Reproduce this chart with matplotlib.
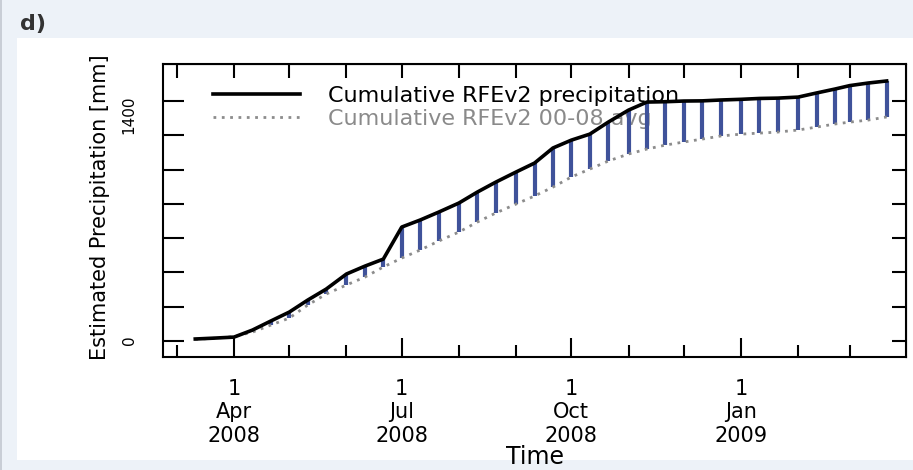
import pandas as pd
import matplotlib
matplotlib.use('Agg')
import matplotlib.pyplot as plt
from matplotlib.patches import Rectangle
from matplotlib.lines import Line2D

# dekadas (10 dias) de mar/2008 a mar/2009
dekads = ['2008-03-11', '2008-03-21', '2008-04-01', '2008-04-11', '2008-04-21',
          '2008-05-01', '2008-05-11', '2008-05-21', '2008-06-01', '2008-06-11',
          '2008-06-21', '2008-07-01', '2008-07-11', '2008-07-21', '2008-08-01',
          '2008-08-11', '2008-08-21', '2008-09-01', '2008-09-11', '2008-09-21',
          '2008-10-01', '2008-10-11', '2008-10-21', '2008-11-01', '2008-11-11',
          '2008-11-21', '2008-12-01', '2008-12-11', '2008-12-21', '2009-01-01',
          '2009-01-11', '2009-01-21', '2009-02-01', '2009-02-11', '2009-02-21',
          '2009-03-01', '2009-03-11', '2009-03-21']

# precipitacao acumulada RFEv2 (mm)
rfe = [12, 17, 23, 64, 117, 169, 239, 303, 391, 437,
       478, 665, 706, 752, 805, 869, 927, 986, 1038, 1126,
       1172, 1207, 1277, 1347, 1394, 1396, 1400, 1401, 1406, 1410,
       1415, 1417, 1423, 1447, 1470, 1490, 1505, 1517]

# media acumulada 2000-2008 (mm)
rfe_avg = [10, 16, 26, 52, 93, 134, 210, 274, 327, 373,
           432, 484, 531, 583, 636, 694, 747, 799, 846, 898,
           957, 1003, 1050, 1091, 1120, 1143, 1161, 1178, 1196, 1207,
           1213, 1219, 1231, 1248, 1266, 1277, 1289, 1307]

major_dates = ['2008-04-01', '2008-07-01', '2008-10-01', '2009-01-01']
major_labels = ['1\nApr\n2008', '1\nJul\n2008', '1\nOct\n2008', '1\nJan\n2009']
month_dates = ['2008-03-01', '2008-04-01', '2008-05-01', '2008-06-01', '2008-07-01',
               '2008-08-01', '2008-09-01', '2008-10-01', '2008-11-01', '2008-12-01',
               '2009-01-01', '2009-02-01', '2009-03-01']
y_ticks = [0, 200, 400, 600, 800, 1000, 1200, 1400]
y_labels = ['0', '', '', '', '', '', '', '1400']

datas = pd.to_datetime(dekads)
meses = pd.to_datetime(month_dates)
principais = pd.to_datetime(major_dates)
secundarios = [m for m in meses if m not in principais]

W, H = 913, 470
fig = plt.figure(figsize=(W / 100, H / 100), dpi=100, facecolor='#edf2f8')
# painel branco atras do grafico
fig.patches.append(Rectangle((17 / W, 10 / H), 896 / W, 422 / H, transform=fig.transFigure,
                             facecolor='white', edgecolor='none', zorder=-2))
fig.patches.append(Rectangle((0, 0), 2 / W, 1, transform=fig.transFigure,
                             facecolor='#c9ced6', edgecolor='none', zorder=-2))
fig.text(20 / W, 1 - 24 / H, 'd)', fontsize=16, fontweight='bold', va='center', color='#333333')

ax = fig.add_axes([163 / W, (H - 357) / H, 743 / W, 293 / H])
ax.set_facecolor('none')

# linhas azuis entre a media e o acumulado
ax.vlines(datas, rfe_avg, rfe, colors='#3f529a', linewidth=3, zorder=2)
ax.plot(datas, rfe_avg, color='#8c8c8c', linestyle=(0, (1, 2)), linewidth=2, zorder=3)
ax.plot(datas, rfe, color='black', linewidth=2.6, zorder=4)

ax.set_xlim(pd.Timestamp('2008-02-22 12:00'), pd.Timestamp('2009-03-31 12:00'))
ax.set_ylim(-93, 1616)

ax.set_xticks(principais, major_labels)
ax.set_xticks(secundarios, minor=True)
ax.set_yticks(y_ticks, y_labels)

ax.tick_params(axis='x', which='major', direction='in', length=14, width=1.5,
               labelsize=15, pad=16)
ax.tick_params(axis='x', which='minor', direction='in', length=8.5, width=1.5)
ax.tick_params(axis='y', direction='in', length=15, width=1.5, labelsize=11,
               labelrotation=90, pad=19)
for t in ax.get_xticklabels():
    t.set_linespacing(1.2)

for s in ax.spines.values():
    s.set_linewidth(1.5)

topo = ax.secondary_xaxis('top')
topo.set_xticks(meses)
topo.tick_params(direction='in', length=10, width=1.5, labeltop=False)
direita = ax.secondary_yaxis('right')
direita.set_yticks(y_ticks)
direita.tick_params(direction='in', length=10, width=1.5, labelright=False)

ax.set_xlabel('Time', fontsize=17)
ax.xaxis.set_label_coords(0.5, -0.3)
ax.set_ylabel('Estimated Precipitation [mm]', fontsize=15)
ax.yaxis.label.set_va('center')
ax.yaxis.set_label_coords((100 - 163) / 743, (357 - 207) / 293)

handles = [Line2D([], [], color='black', linewidth=2.6),
           Line2D([], [], color='#8c8c8c', linestyle=(0, (1, 2)), linewidth=2)]
leg = ax.legend(handles, ['Cumulative RFEv2 precipitation', 'Cumulative RFEv2 00-08 avg'],
                loc='upper left', bbox_to_anchor=((213 - 163) / 743, (357 - 86) / 293),
                frameon=False, fontsize=16, handlelength=3.9, handletextpad=1.26,
                labelspacing=0.12, borderpad=0, borderaxespad=0)
leg.get_texts()[1].set_color('#8a8a8a')
leg.set_zorder(1)

fig.savefig('out.png', dpi=100, facecolor=fig.get_facecolor())
